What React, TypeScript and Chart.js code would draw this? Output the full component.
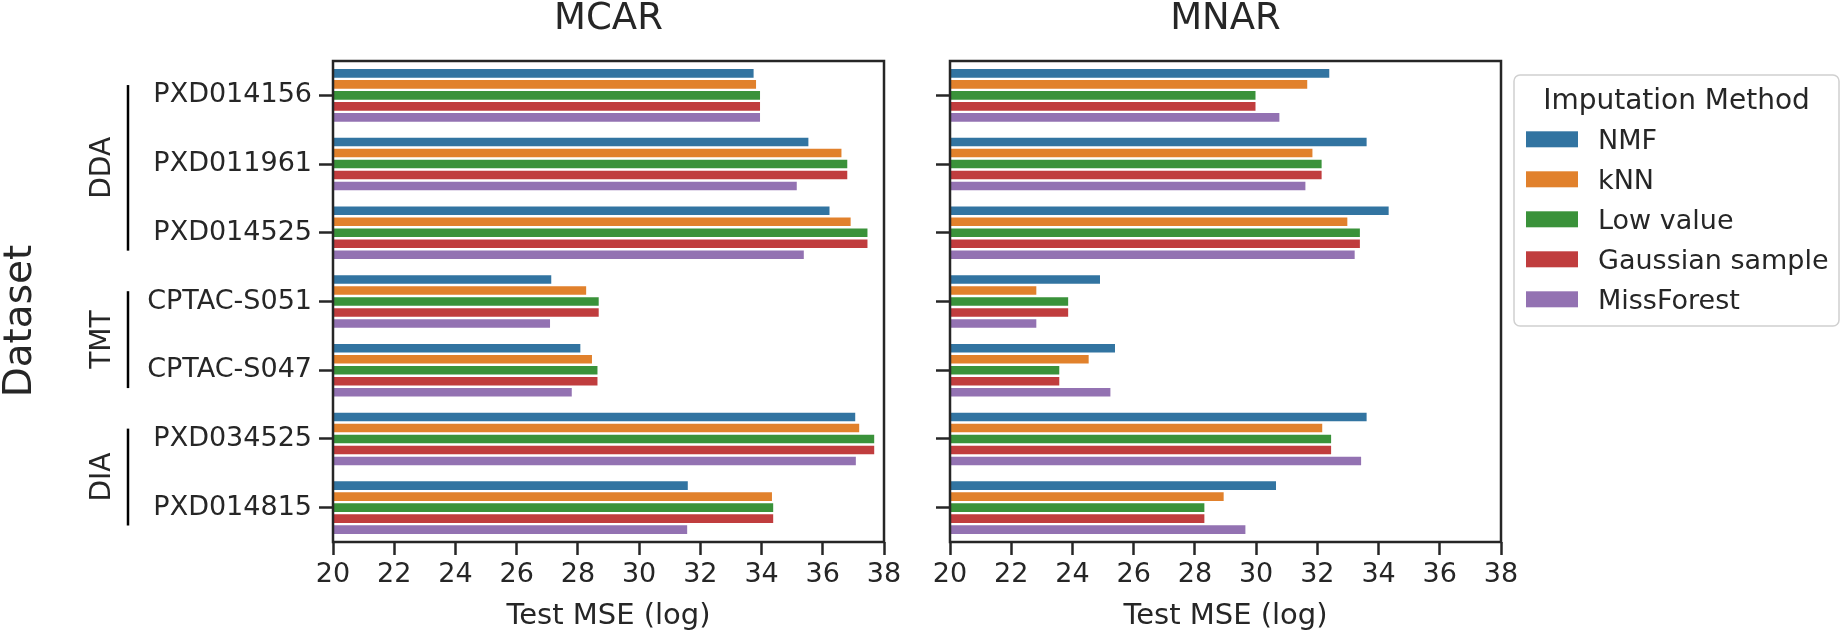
import React, { useEffect, useRef } from 'react';
import { Chart, registerables } from 'chart.js';

Chart.register(...registerables);

// ---------------- data ----------------
const categories = ['PXD014156', 'PXD011961', 'PXD014525', 'CPTAC-S051', 'CPTAC-S047', 'PXD034525', 'PXD014815'];
const methods = ['NMF', 'kNN', 'Low value', 'Gaussian sample', 'MissForest'];
const methodColors = ['#3274A1', '#E1812C', '#3A923A', '#C03D3E', '#9372B2'];

const mcarNMF = [33.74, 35.53, 36.22, 27.13, 28.08, 37.06, 31.59];
const mcarKNN = [33.82, 36.61, 36.91, 28.27, 28.46, 37.19, 34.34];
const mcarLow = [33.95, 36.80, 37.46, 28.68, 28.64, 37.68, 34.38];
const mcarGauss = [33.95, 36.80, 37.46, 28.68, 28.64, 37.68, 34.38];
const mcarMissForest = [33.95, 35.15, 35.38, 27.09, 27.80, 37.08, 31.57];

const mnarNMF = [32.39, 33.61, 34.33, 24.90, 25.39, 33.61, 30.65];
const mnarKNN = [31.67, 31.84, 32.98, 22.82, 24.53, 32.16, 28.94];
const mnarLow = [29.98, 32.14, 33.39, 23.86, 23.57, 32.45, 28.31];
const mnarGauss = [29.98, 32.14, 33.39, 23.86, 23.57, 32.45, 28.31];
const mnarMissForest = [30.76, 31.61, 33.22, 22.82, 25.24, 33.43, 29.65];

const mcarSeries = [mcarNMF, mcarKNN, mcarLow, mcarGauss, mcarMissForest];
const mnarSeries = [mnarNMF, mnarKNN, mnarLow, mnarGauss, mnarMissForest];

const xTicks = [20, 22, 24, 26, 28, 30, 32, 34, 36, 38];

const groupLabels = ['DDA', 'TMT', 'DIA'];
const groupFirst = [0, 3, 5];
const groupLast = [2, 4, 6];

const panelTitles = ['MCAR', 'MNAR'];
const xAxisTitle = 'Test MSE (log)';
const yAxisTitle = 'Dataset';
const legendTitle = 'Imputation Method';

// ---------------- style ----------------
const FAMILY = "'DejaVu Sans', 'Noto Sans', sans-serif";
const INK = '#262626';

const framePlugin = {
  id: 'frame',
  afterDatasetsDraw(chart: any) {
    const { ctx, chartArea } = chart;
    ctx.save();
    ctx.strokeStyle = INK;
    ctx.lineWidth = 2.5;
    ctx.strokeRect(chartArea.left, chartArea.top, chartArea.right - chartArea.left, chartArea.bottom - chartArea.top);
    ctx.restore();
  },
};

const panelPlugin = {
  id: 'panel',
  afterDraw(chart: any, _args: any, opts: any) {
    const { ctx, chartArea } = chart;
    ctx.save();
    ctx.fillStyle = INK;
    ctx.font = `37px ${FAMILY}`;
    ctx.textAlign = 'center';
    ctx.textBaseline = 'alphabetic';
    ctx.fillText(opts.title, (chartArea.left + chartArea.right) / 2, 29);

    if (opts.groups) {
      const y = chart.scales.y;
      const step = (y.bottom - y.top) / categories.length;
      groupLabels.forEach((label, i) => {
        const y0 = y.getPixelForValue(groupFirst[i]) - 0.15 * step;
        const y1 = y.getPixelForValue(groupLast[i]) + 0.26 * step;
        ctx.strokeStyle = '#000000';
        ctx.lineWidth = 2.5;
        ctx.beginPath();
        ctx.moveTo(128, y0);
        ctx.lineTo(128, y1);
        ctx.stroke();
        ctx.save();
        ctx.translate(110, (y0 + y1) / 2);
        ctx.rotate(-Math.PI / 2);
        ctx.font = `28px ${FAMILY}`;
        ctx.textAlign = 'center';
        ctx.textBaseline = 'alphabetic';
        ctx.fillStyle = INK;
        ctx.fillText(label, 0, 0);
        ctx.restore();
      });
      ctx.save();
      ctx.translate(31, 321);
      ctx.rotate(-Math.PI / 2);
      ctx.font = `39px ${FAMILY}`;
      ctx.textAlign = 'center';
      ctx.textBaseline = 'alphabetic';
      ctx.fillStyle = INK;
      ctx.fillText(yAxisTitle, 0, 0);
      ctx.restore();
    }

    if (opts.legend) {
      const lx = 614, ly = 75, lw = 325, lh = 251, r = 6;
      ctx.beginPath();
      ctx.moveTo(lx + r, ly);
      ctx.lineTo(lx + lw - r, ly);
      ctx.arcTo(lx + lw, ly, lx + lw, ly + r, r);
      ctx.lineTo(lx + lw, ly + lh - r);
      ctx.arcTo(lx + lw, ly + lh, lx + lw - r, ly + lh, r);
      ctx.lineTo(lx + r, ly + lh);
      ctx.arcTo(lx, ly + lh, lx, ly + lh - r, r);
      ctx.lineTo(lx, ly + r);
      ctx.arcTo(lx, ly, lx + r, ly, r);
      ctx.closePath();
      ctx.fillStyle = 'rgba(255,255,255,0.8)';
      ctx.fill();
      ctx.strokeStyle = '#d0d0d0';
      ctx.lineWidth = 1.5;
      ctx.stroke();

      ctx.fillStyle = INK;
      ctx.font = `28px ${FAMILY}`;
      ctx.textAlign = 'center';
      ctx.textBaseline = 'alphabetic';
      ctx.fillText(legendTitle, lx + lw / 2, 109);

      chart.data.datasets.forEach((ds: any, i: number) => {
        const cy = 139.3 + 40 * i;
        ctx.fillStyle = ds.backgroundColor;
        ctx.fillRect(626, cy - 8, 52, 16);
        ctx.fillStyle = INK;
        ctx.font = `27px ${FAMILY}`;
        ctx.textAlign = 'left';
        ctx.fillText(ds.label, 698, cy + 10);
      });
    }
    ctx.restore();
  },
};

function makeConfig(series: number[][], title: string, showLabels: boolean, yWidth: number, padRight: number, legend: boolean) {
  return {
    type: 'bar' as const,
    data: {
      labels: categories,
      datasets: methods.map((m, i) => ({
        label: m,
        data: series[i],
        backgroundColor: methodColors[i],
        borderWidth: 0,
        base: xTicks[0],
        categoryPercentage: 0.8,
        barPercentage: 0.78,
      })),
    },
    options: {
      indexAxis: 'y' as const,
      responsive: false,
      animation: false as const,
      devicePixelRatio: 1,
      layout: { padding: { left: 0, right: padRight, top: 61, bottom: 0 } },
      plugins: {
        legend: { display: false },
        tooltip: { enabled: false },
        title: { display: false },
        panel: { title, groups: showLabels, legend },
      },
      scales: {
        x: {
          type: 'linear' as const,
          min: xTicks[0],
          max: xTicks[xTicks.length - 1],
          afterFit: (s: any) => { s.height = 92; },
          afterBuildTicks: (s: any) => { s.ticks = xTicks.map((v) => ({ value: v })); },
          ticks: { color: INK, font: { size: 27, family: FAMILY }, padding: 4, maxRotation: 0, autoSkip: false },
          grid: { display: true, drawOnChartArea: false, drawTicks: true, tickLength: 13, tickWidth: 2.5, tickColor: INK },
          border: { display: false },
          title: { display: true, text: xAxisTitle, color: INK, font: { size: 29, family: FAMILY, lineHeight: 1.2 }, padding: { top: 0, bottom: 0 } },
        },
        y: {
          type: 'category' as const,
          afterFit: (s: any) => { s.width = yWidth; },
          ticks: {
            color: INK,
            font: { size: 27, family: FAMILY },
            padding: 7,
            autoSkip: false,
            callback: function (this: any, v: any) { return showLabels ? this.getLabelForValue(v) : ''; },
          },
          grid: { display: true, drawOnChartArea: false, drawTicks: true, tickLength: 14, tickWidth: 2.5, tickColor: INK, offset: false },
          border: { display: false },
        },
      },
    },
    plugins: [framePlugin, panelPlugin],
  };
}

export default function App() {
  const leftRef = useRef<HTMLCanvasElement>(null);
  const rightRef = useRef<HTMLCanvasElement>(null);

  useEffect(() => {
    Chart.defaults.font.family = FAMILY;
    const left = new Chart(leftRef.current as HTMLCanvasElement, makeConfig(mcarSeries, panelTitles[0], true, 333, 26, false) as any);
    const right = new Chart(rightRef.current as HTMLCanvasElement, makeConfig(mnarSeries, panelTitles[1], false, 50, 340, true) as any);
    return () => {
      left.destroy();
      right.destroy();
    };
  }, []);

  return (
    <div style={{ position: 'fixed', left: 0, top: 0, width: 1841, height: 634, background: '#ffffff' }}>
      <canvas ref={leftRef} width={910} height={634} style={{ position: 'absolute', left: 0, top: 0, width: 910, height: 634 }} />
      <canvas ref={rightRef} width={941} height={634} style={{ position: 'absolute', left: 900, top: 0, width: 941, height: 634 }} />
    </div>
  );
}
